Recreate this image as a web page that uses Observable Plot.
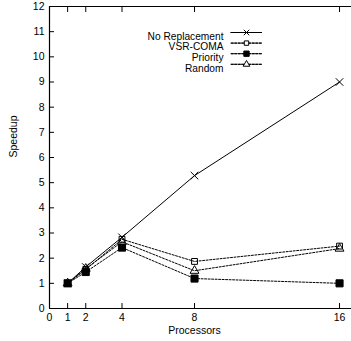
<!DOCTYPE html>
<html><head><meta charset="utf-8">
<script src="https://cdn.jsdelivr.net/npm/d3@7"></script>
<script src="https://cdn.jsdelivr.net/npm/@observablehq/plot@0.6"></script>
<style>body{margin:0;background:#fff}</style>
</head><body><div id="chart"></div>
<script>
const processors = [1, 2, 4, 8, 16];
const noReplacement = [1.0, 1.65, 2.83, 5.28, 9.0];
const vsrComa = [1.0, 1.55, 2.75, 1.87, 2.48];
const priority = [1.0, 1.45, 2.42, 1.19, 1.0];
const random = [1.0, 1.58, 2.65, 1.5, 2.38];
const seriesNames = ["No Replacement", "VSR-COMA", "Priority", "Random"];
const xTicks = [0, 1, 2, 4, 8, 16];
const yTicks = [0,1,2,3,4,5,6,7,8,9,10,11,12];

const seriesValues = [noReplacement, vsrComa, priority, random];
const styles = {
  "No Replacement": {dash: null, symbol: "times", fill: "none", r: 3.5},
  "VSR-COMA": {dash: "2,1.5", symbol: "square", fill: "none", r: 3.3},
  "Priority": {dash: "2,1.5", symbol: "square", fill: "black", r: 4},
  "Random": {dash: "2,1.5", symbol: "triangle", fill: "none", r: 3.3}
};
const data = seriesNames.flatMap((s, i) => processors.map((p, j) => ({series: s, x: p, y: seriesValues[i][j]})));

const marks = [
  Plot.ruleX([0], {stroke: "black", strokeWidth: 1.2}),
  Plot.ruleY([0], {stroke: "black", strokeWidth: 1.2}),
  Plot.ruleY([12], {stroke: "black", strokeWidth: 1.2}),
  Plot.axisY({ticks: yTicks, tickSize: -5, tickPadding: 10, fontSize: 10.5, label: null}),
  Plot.axisX({ticks: xTicks, tickSize: -5, tickPadding: 10, fontSize: 10.5, label: null}),
  Plot.axisX({ticks: xTicks.slice(1), anchor: "top", tickSize: -5, tickFormat: () => "", label: null}),
  Plot.text(["Speedup"], {frameAnchor: "left", dx: -36, rotate: -90, fontSize: 10.5}),
  Plot.text(["Processors"], {x: 8, frameAnchor: "bottom", dy: 25, fontSize: 10.5})
];
for (const s of seriesNames) {
  const st = styles[s];
  const d = data.filter(r => r.series === s);
  marks.push(Plot.line(d, {x: "x", y: "y", stroke: "black", strokeWidth: 1, strokeDasharray: st.dash}));
  marks.push(Plot.dot(d, {x: "x", y: "y", symbol: () => st.symbol, r: st.r, stroke: "black", fill: st.fill, strokeWidth: 1}));
}
// legend (inside plot)
seriesNames.forEach((s, i) => {
  const st = styles[s];
  const dy = 26 + i * 10.6;
  marks.push(Plot.text([s], {frameAnchor: "top-left", dx: 174, dy, textAnchor: "end", fontSize: 10.2}));
  marks.push(Plot.vector([s], {frameAnchor: "top-left", dx: 197, dy, length: 31, rotate: 90, anchor: "middle", shape: "spike", r: 0, stroke: "black", strokeWidth: 1, strokeDasharray: st.dash}));
  marks.push(Plot.dot([s], {frameAnchor: "top-left", dx: 197, dy, symbol: () => st.symbol, r: st.r * 0.75, stroke: "black", fill: st.fill === "none" ? "white" : st.fill, strokeWidth: 1}));
});

const plot = Plot.plot({
  width: 351, height: 341,
  marginLeft: 49, marginRight: 0, marginTop: 6, marginBottom: 33,
  style: {fontFamily: "'Liberation Sans', Arial, sans-serif", fontSize: "10.5px", color: "black", background: "white"},
  x: {domain: [0, 16.66], ticks: xTicks},
  y: {domain: [0, 12]},
  marks
});
document.getElementById("chart").appendChild(plot);
</script></body></html>
